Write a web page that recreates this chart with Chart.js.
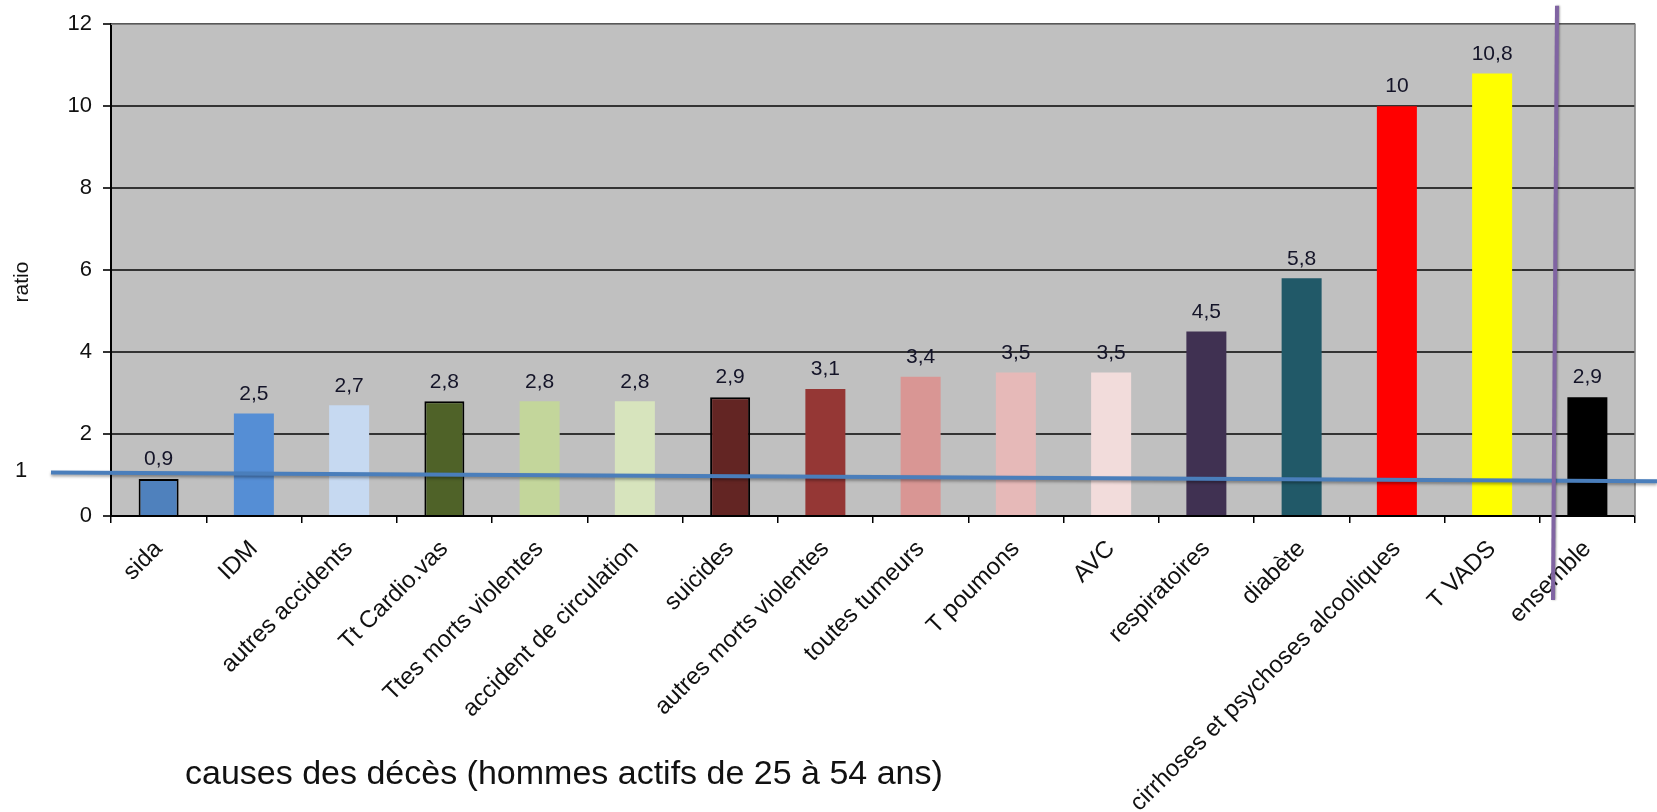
<!DOCTYPE html>
<html>
<head>
<meta charset="utf-8">
<script src="https://cdn.jsdelivr.net/npm/chart.js@4/dist/chart.umd.min.js"></script>
<style>
html,body{margin:0;padding:0;background:#fff;}
#wrap{position:relative;width:1657px;height:812px;}
</style>
</head>
<body>
<div id="wrap"><canvas id="c" width="1657" height="812"></canvas></div>
<script>
const categories = ['sida','IDM','autres accidents','Tt Cardio.vas','Ttes morts violentes','accident de circulation','suicides','autres morts violentes','toutes tumeurs','T poumons','AVC','respiratoires','diabète','cirrhoses et psychoses alcooliques','T VADS','ensemble'];
const values = [0.9, 2.5, 2.7, 2.8, 2.8, 2.8, 2.9, 3.1, 3.4, 3.5, 3.5, 4.5, 5.8, 10, 10.8, 2.9];
const barColors = ['#4F81BD','#558ED5','#C6D9F1','#4F6228','#C3D69B','#D7E4BD','#632523','#953735','#D99694','#E6B9B8','#F2DCDB','#403152','#215968','#FF0000','#FFFF00','#000000'];
const barBorderWidths = [2,0,0,2,0,0,2,0,0,0,0,0,0,0,0,0];
const yMin = 0, yMax = 12, yStep = 2;
const yTitle = 'ratio';
const xTitle = 'causes des décès (hommes actifs de 25 à 54 ans)';
const refLineLabel = '1';
const refLineValues = [1.06, 0.85];     // hand-drawn "1" line, left end / right end
const dividerIndex = 14.66;             // purple divider between T VADS and ensemble
const dividerValues = [12.45, -2.05];   // top / bottom extent in axis units

const FONT = '"Liberation Sans", Arial, sans-serif';

const annotations = {
  id: 'annotations',
  beforeDraw(chart) {
    const {ctx, chartArea: a} = chart;
    ctx.save();
    ctx.fillStyle = '#C0C0C0';
    ctx.fillRect(a.left, a.top, a.right - a.left, a.bottom - a.top);
    ctx.restore();
  },
  afterDatasetsDraw(chart) {
    const {ctx} = chart;
    const meta = chart.getDatasetMeta(0);
    ctx.save();
    ctx.font = '21px ' + FONT;
    ctx.fillStyle = '#141428';
    ctx.textAlign = 'center';
    ctx.textBaseline = 'bottom';
    meta.data.forEach((bar, i) => {
      const txt = String(values[i]).replace('.', ',');
      ctx.fillText(txt, bar.x, bar.y - 9);
    });
    ctx.restore();
  },
  afterDraw(chart) {
    const {ctx, chartArea: a, scales} = chart;
    const y = scales.y, x = scales.x;
    ctx.save();
    // plot area border
    ctx.strokeStyle = '#7f7f7f';
    ctx.lineWidth = 1.5;
    ctx.beginPath();
    ctx.moveTo(a.left, a.top); ctx.lineTo(a.right, a.top); ctx.lineTo(a.right, a.bottom);
    ctx.stroke();
    // y title
    ctx.save();
    ctx.translate(22, 282);
    ctx.rotate(-Math.PI / 2);
    ctx.font = '21px ' + FONT;
    ctx.fillStyle = '#111';
    ctx.textAlign = 'center';
    ctx.textBaseline = 'middle';
    ctx.fillText(yTitle, 0, 0);
    ctx.restore();
    // blue reference line
    ctx.shadowColor = 'rgba(0,0,0,0.35)';
    ctx.shadowBlur = 3;
    ctx.shadowOffsetY = 2;
    ctx.strokeStyle = '#4A7EBB';
    ctx.lineWidth = 4;
    ctx.beginPath();
    ctx.moveTo(a.left - 60, y.getPixelForValue(refLineValues[0]));
    ctx.lineTo(chart.width, y.getPixelForValue(refLineValues[1]));
    ctx.stroke();
    // purple divider
    ctx.strokeStyle = '#8064A2';
    ctx.lineWidth = 4;
    ctx.shadowBlur = 2;
    ctx.shadowOffsetY = 0;
    ctx.shadowOffsetX = 1;
    const dx = x.getPixelForValue(dividerIndex);
    ctx.beginPath();
    ctx.moveTo(dx + 2, y.getPixelForValue(dividerValues[0]));
    ctx.lineTo(dx - 2, y.getPixelForValue(dividerValues[1]));
    ctx.stroke();
    ctx.shadowColor = 'transparent';
    // "1" label
    ctx.fillStyle = '#111';
    ctx.font = '22px ' + FONT;
    ctx.textAlign = 'center';
    ctx.textBaseline = 'middle';
    ctx.fillText(refLineLabel, 21, y.getPixelForValue(refLineValues[0]) - 2);
    // x title
    ctx.font = '34px ' + FONT;
    ctx.textAlign = 'left';
    ctx.textBaseline = 'alphabetic';
    ctx.fillStyle = '#111';
    ctx.fillText(xTitle, 185, 784);
    ctx.restore();
  }
};

new Chart(document.getElementById('c'), {
  type: 'bar',
  data: {
    labels: categories,
    datasets: [{
      data: values,
      backgroundColor: barColors,
      borderColor: '#000',
      borderWidth: barBorderWidths,
      barPercentage: 0.42,
      categoryPercentage: 1.0
    }]
  },
  options: {
    responsive: false,
    animation: false,
    events: [],
    layout: { padding: { top: 23, right: 22, left: 0, bottom: 0 } },
    plugins: { legend: { display: false }, tooltip: { enabled: false } },
    scales: {
      x: {
        offset: true,
        grid: { display: true, drawOnChartArea: false, drawTicks: true, tickLength: 7, color: '#000', lineWidth: 1.5, offset: true },
        border: { display: true, color: '#000', width: 2 },
        ticks: { autoSkip: false, minRotation: 45, maxRotation: 45, padding: 12, color: '#111', font: { family: FONT, size: 24 } },
        afterFit(scale) { scale.height = 296; }
      },
      y: {
        min: yMin, max: yMax,
        ticks: { stepSize: yStep, padding: 11, color: '#111', font: { family: FONT, size: 22 } },
        grid: { color: '#333', lineWidth: 2, tickLength: 8, drawTicks: true },
        border: { display: true, color: '#000', width: 2 },
        title: { display: false },
        afterFit(scale) { scale.width = 111; }
      }
    }
  },
  plugins: [annotations]
});
</script>
</body>
</html>
